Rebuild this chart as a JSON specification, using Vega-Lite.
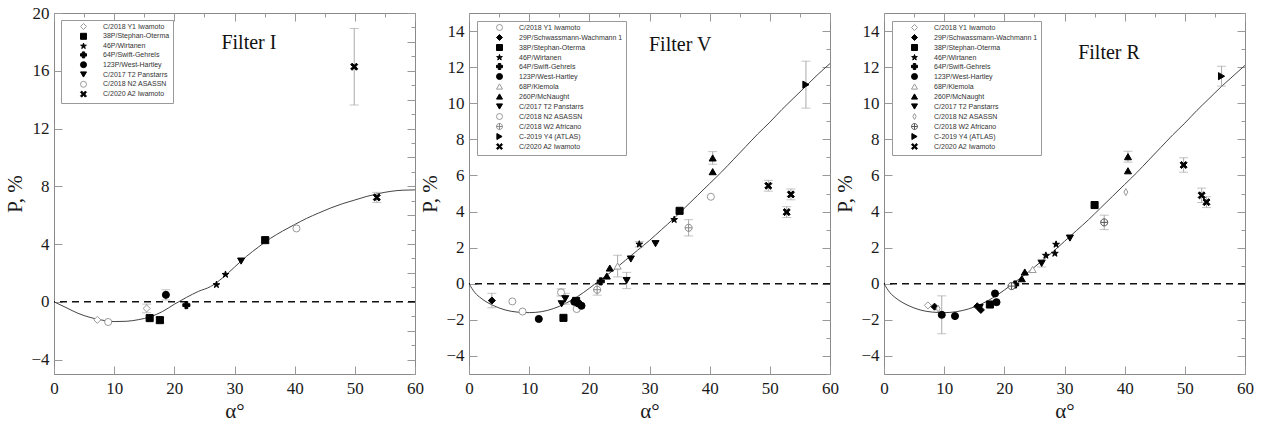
{
"$schema": "https://vega.github.io/schema/vega-lite/v6.json",
"padding": {"left": 4, "top": 3, "right": 2, "bottom": 0},
"background": "white",
"bounds": "flush",
"config": {
  "view": {"stroke": "#8a8a8a", "strokeWidth": 1},
  "axis": {"labelFont": "Liberation Serif", "labelFontSize": 17, "labelColor": "#1a1a1a", "titleFont": "Liberation Serif", "titleFontSize": 21, "titleFontWeight": "normal", "titleColor": "#1a1a1a", "grid": false, "domain": false, "tickColor": "#999", "tickWidth": 1},
  "legend": {"orient": "top-left", "offset": 8, "padding": 3, "strokeColor": "#999", "fillColor": "white", "labelFont": "Liberation Sans", "labelFontSize": 7, "labelColor": "#333", "rowPadding": -1, "symbolOffset": 16, "labelOffset": 16, "symbolSize": 36, "symbolStrokeWidth": 1, "titlePadding": 0}
},
"datasets": {
  "curveI": [
    {"a":0,"P":0},{"a":2,"P":-0.4},{"a":4,"P":-0.8},{"a":6,"P":-1.08},{"a":8,"P":-1.27},{"a":10,"P":-1.37},{"a":12,"P":-1.35},{"a":14,"P":-1.24},{"a":16,"P":-1.04},{"a":18,"P":-0.68},{"a":20,"P":-0.17},{"a":22,"P":0.3},{"a":24,"P":0.72},{"a":26,"P":1.05},{"a":28,"P":1.65},{"a":30,"P":2.4},{"a":32,"P":3.15},{"a":34,"P":3.8},{"a":36,"P":4.4},{"a":38,"P":4.9},{"a":40,"P":5.35},{"a":42,"P":5.78},{"a":44,"P":6.15},{"a":46,"P":6.5},{"a":48,"P":6.8},{"a":50,"P":7.05},{"a":52,"P":7.3},{"a":54,"P":7.5},{"a":56,"P":7.65},{"a":58,"P":7.73},{"a":60,"P":7.75}
  ],
  "curveV": [
    {"a":0,"P":0},{"a":1,"P":-0.5},{"a":2,"P":-0.8},{"a":4,"P":-1.2},{"a":6,"P":-1.45},{"a":8,"P":-1.57},{"a":10,"P":-1.6},{"a":12,"P":-1.55},{"a":14,"P":-1.38},{"a":16,"P":-1.1},{"a":18,"P":-0.72},{"a":20,"P":-0.25},{"a":22,"P":0.25},{"a":24,"P":0.75},{"a":26,"P":1.3},{"a":28,"P":1.85},{"a":30,"P":2.4},{"a":32,"P":3.0},{"a":34,"P":3.6},{"a":36,"P":4.25},{"a":38,"P":4.9},{"a":40,"P":5.55},{"a":42,"P":6.2},{"a":44,"P":6.9},{"a":46,"P":7.6},{"a":48,"P":8.3},{"a":50,"P":8.95},{"a":52,"P":9.65},{"a":54,"P":10.3},{"a":56,"P":10.95},{"a":58,"P":11.6},{"a":60,"P":12.2}
  ],
  "curveR": [
    {"a":0,"P":0},{"a":1,"P":-0.5},{"a":2,"P":-0.8},{"a":4,"P":-1.2},{"a":6,"P":-1.45},{"a":8,"P":-1.57},{"a":10,"P":-1.6},{"a":12,"P":-1.55},{"a":14,"P":-1.4},{"a":16,"P":-1.15},{"a":18,"P":-0.8},{"a":20,"P":-0.35},{"a":22,"P":0.15},{"a":24,"P":0.65},{"a":26,"P":1.2},{"a":28,"P":1.75},{"a":30,"P":2.35},{"a":32,"P":2.95},{"a":34,"P":3.55},{"a":36,"P":4.2},{"a":38,"P":4.85},{"a":40,"P":5.5},{"a":42,"P":6.15},{"a":44,"P":6.85},{"a":46,"P":7.55},{"a":48,"P":8.25},{"a":50,"P":8.9},{"a":52,"P":9.6},{"a":54,"P":10.25},{"a":56,"P":10.9},{"a":58,"P":11.5},{"a":60,"P":12.1}
  ],
  "ptsI": [
    {"a":7.2,"P":-1.25,"s":"C/2018 Y1 Iwamoto"},
    {"a":15.4,"P":-0.46,"s":"C/2018 Y1 Iwamoto","e":0.3},
    {"a":9.0,"P":-1.4,"s":"C/2018 N2 ASASSN"},
    {"a":40.3,"P":5.08,"s":"C/2018 N2 ASASSN"},
    {"a":15.9,"P":-1.13,"s":"38P/Stephan-Oterma"},
    {"a":17.6,"P":-1.27,"s":"38P/Stephan-Oterma","e":0.2},
    {"a":35.1,"P":4.27,"s":"38P/Stephan-Oterma","e":0.2},
    {"a":18.6,"P":0.48,"s":"123P/West-Hartley","e":0.35},
    {"a":22.0,"P":-0.23,"s":"64P/Swift-Gehrels"},
    {"a":27.0,"P":1.18,"s":"46P/Wirtanen"},
    {"a":28.5,"P":1.89,"s":"46P/Wirtanen"},
    {"a":31.1,"P":2.82,"s":"C/2017 T2 Panstarrs"},
    {"a":49.9,"P":16.28,"s":"C/2020 A2 Iwamoto","e":2.65},
    {"a":53.65,"P":7.23,"s":"C/2020 A2 Iwamoto","e":0.35}
  ],
  "ptsV": [
    {"a":7.2,"P":-0.98,"s":"C/2018 Y1 Iwamoto"},
    {"a":15.3,"P":-0.48,"s":"C/2018 Y1 Iwamoto","e":0.2},
    {"a":8.9,"P":-1.54,"s":"C/2018 N2 ASASSN"},
    {"a":17.9,"P":-1.4,"s":"C/2018 N2 ASASSN"},
    {"a":40.2,"P":4.82,"s":"C/2018 N2 ASASSN"},
    {"a":3.8,"P":-0.93,"s":"29P/Schwassmann-Wachmann 1","e":0.4},
    {"a":11.6,"P":-1.95,"s":"123P/West-Hartley"},
    {"a":17.5,"P":-1.0,"s":"123P/West-Hartley"},
    {"a":18.2,"P":-1.1,"s":"123P/West-Hartley"},
    {"a":18.7,"P":-1.22,"s":"123P/West-Hartley"},
    {"a":15.7,"P":-1.89,"s":"38P/Stephan-Oterma"},
    {"a":17.8,"P":-0.95,"s":"38P/Stephan-Oterma"},
    {"a":35.0,"P":4.04,"s":"38P/Stephan-Oterma"},
    {"a":15.4,"P":-1.11,"s":"C/2017 T2 Panstarrs"},
    {"a":16.0,"P":-0.83,"s":"C/2017 T2 Panstarrs","e":0.3},
    {"a":26.2,"P":0.18,"s":"C/2017 T2 Panstarrs","e":0.45},
    {"a":26.9,"P":1.37,"s":"C/2017 T2 Panstarrs"},
    {"a":31.0,"P":2.22,"s":"C/2017 T2 Panstarrs"},
    {"a":21.9,"P":0.13,"s":"64P/Swift-Gehrels"},
    {"a":21.3,"P":-0.33,"s":"C/2018 W2 Africano","e":0.3},
    {"a":36.5,"P":3.1,"s":"C/2018 W2 Africano","e":0.45},
    {"a":22.9,"P":0.43,"s":"260P/McNaught"},
    {"a":23.4,"P":0.87,"s":"260P/McNaught"},
    {"a":40.5,"P":6.97,"s":"260P/McNaught","e":0.35},
    {"a":40.5,"P":6.21,"s":"260P/McNaught"},
    {"a":24.7,"P":0.98,"s":"68P/Klemola","e":0.6},
    {"a":28.3,"P":2.19,"s":"46P/Wirtanen","e":0.15},
    {"a":34.1,"P":3.55,"s":"46P/Wirtanen"},
    {"a":56.0,"P":11.03,"s":"C-2019 Y4 (ATLAS)","e":1.3},
    {"a":49.75,"P":5.43,"s":"C/2020 A2 Iwamoto","e":0.3},
    {"a":52.8,"P":3.97,"s":"C/2020 A2 Iwamoto","e":0.3},
    {"a":53.5,"P":4.95,"s":"C/2020 A2 Iwamoto","e":0.3}
  ],
  "ptsR": [
    {"a":7.3,"P":-1.2,"s":"C/2018 Y1 Iwamoto"},
    {"a":8.4,"P":-1.27,"s":"29P/Schwassmann-Wachmann 1"},
    {"a":15.5,"P":-1.25,"s":"29P/Schwassmann-Wachmann 1"},
    {"a":16.1,"P":-1.45,"s":"29P/Schwassmann-Wachmann 1"},
    {"a":9.0,"P":-1.38,"s":"C/2018 N2 ASASSN"},
    {"a":40.2,"P":5.08,"s":"C/2018 N2 ASASSN"},
    {"a":9.6,"P":-1.72,"s":"123P/West-Hartley","e":1.05},
    {"a":11.8,"P":-1.79,"s":"123P/West-Hartley"},
    {"a":18.45,"P":-0.54,"s":"123P/West-Hartley"},
    {"a":18.7,"P":-1.02,"s":"123P/West-Hartley"},
    {"a":17.6,"P":-1.15,"s":"38P/Stephan-Oterma"},
    {"a":35.0,"P":4.36,"s":"38P/Stephan-Oterma"},
    {"a":15.9,"P":-1.32,"s":"C/2017 T2 Panstarrs"},
    {"a":26.2,"P":1.13,"s":"C/2017 T2 Panstarrs","e":0.2},
    {"a":30.9,"P":2.53,"s":"C/2017 T2 Panstarrs"},
    {"a":21.8,"P":-0.04,"s":"64P/Swift-Gehrels"},
    {"a":21.2,"P":-0.13,"s":"C/2018 W2 Africano"},
    {"a":36.6,"P":3.4,"s":"C/2018 W2 Africano","e":0.4},
    {"a":22.9,"P":0.28,"s":"260P/McNaught"},
    {"a":23.4,"P":0.65,"s":"260P/McNaught"},
    {"a":40.55,"P":7.04,"s":"260P/McNaught","e":0.3},
    {"a":40.55,"P":6.26,"s":"260P/McNaught"},
    {"a":24.7,"P":0.79,"s":"68P/Klemola"},
    {"a":26.9,"P":1.57,"s":"46P/Wirtanen"},
    {"a":28.4,"P":1.68,"s":"46P/Wirtanen"},
    {"a":28.6,"P":2.18,"s":"46P/Wirtanen"},
    {"a":56.1,"P":11.5,"s":"C-2019 Y4 (ATLAS)","e":0.55},
    {"a":49.8,"P":6.58,"s":"C/2020 A2 Iwamoto","e":0.4},
    {"a":52.8,"P":4.9,"s":"C/2020 A2 Iwamoto","e":0.4},
    {"a":53.6,"P":4.52,"s":"C/2020 A2 Iwamoto","e":0.3}
  ]
},
"spacing": 54,
"resolve": {"scale": {"x": "independent", "y": "independent", "shape": "independent", "fill": "independent", "stroke": "independent"}, "legend": {"shape": "independent", "fill": "independent", "stroke": "independent"}},
"hconcat": [
  {
    "width": 361, "height": 361,
    "resolve": {"axis": {"x": "independent", "y": "independent"}},
    "layer": [
      {
        "layer": [
          {
            "data": {"name": "curveI"},
            "mark": {"type": "line", "interpolate": "monotone", "color": "#444", "strokeWidth": 1},
            "encoding": {
              "x": {"field": "a", "type": "quantitative", "scale": {"domain": [0, 60], "nice": false}, "title": "α°", "axis": {"values": [0,5,10,15,20,25,30,35,40,45,50,55,60], "labelExpr": "datum.value % 10 === 0 ? datum.label : ''", "tickSize": {"condition": {"test": "datum.value % 10 === 0", "value": -8}, "value": -4}, "labelPadding": 14, "titlePadding": 4, "labelFlush": false}},
              "y": {"field": "P", "type": "quantitative", "scale": {"domain": [-5, 20], "nice": false}, "title": "P, %", "axis": {"values": [-4,-3,-2,-1,0,1,2,3,4,5,6,7,8,9,10,11,12,13,14,15,16,17,18,19,20], "labelExpr": "datum.value % 2 === 0 ? datum.label : ''", "tickSize": {"condition": {"test": "datum.value % 2 === 0", "value": -8}, "value": -4}, "labelPadding": 13, "titlePadding": 5, "labelOverlap": false}}
            }
          },
          {
            "data": {"values": [{}]},
            "mark": {"type": "rule", "strokeDash": [7, 5], "color": "#111", "strokeWidth": 1.4},
            "encoding": {"y": {"datum": 0, "type": "quantitative", "title": "P, %"}}
          },
          {
            "data": {"values": [{}]},
            "mark": {"type": "text", "font": "Liberation Serif", "fontSize": 20, "color": "#111"},
            "encoding": {"x": {"datum": 32.4, "type": "quantitative", "title": "α°"}, "y": {"datum": 17.9, "type": "quantitative", "title": "P, %"}, "text": {"value": "Filter I"}}
          },
          {
            "data": {"name": "ptsI"},
            "transform": [{"filter": "datum.e > 0"}],
            "mark": {"type": "errorbar", "ticks": {"size": 9}, "color": "#aaa", "thickness": 1},
            "encoding": {
              "x": {"field": "a", "type": "quantitative", "title": "α°"},
              "y": {"field": "P", "type": "quantitative", "title": "P, %"},
              "yError": {"field": "e"}
            }
          },
          {
            "data": {"name": "ptsI"},
            "mark": {"type": "point", "opacity": 1, "strokeWidth": 1, "size": 50},
            "encoding": {
              "x": {"field": "a", "type": "quantitative", "title": "α°"},
              "y": {"field": "P", "type": "quantitative", "title": "P, %"},
              "shape": {"field": "s", "type": "nominal", "title": null, "legend": {"symbolSize": 36, "rowPadding": -1.2, "symbolOffset": 16, "labelOffset": 16, "padding": 3, "offset": 7}, "scale": {"domain": ["C/2018 Y1 Iwamoto", "38P/Stephan-Oterma", "46P/Wirtanen", "64P/Swift-Gehrels", "123P/West-Hartley", "C/2017 T2 Panstarrs", "C/2018 N2 ASASSN", "C/2020 A2 Iwamoto"], "range": ["diamond", "square", "M0,-1L0.2245,-0.309L0.951,-0.309L0.363,0.118L0.588,0.809L0,0.382L-0.588,0.809L-0.363,0.118L-0.951,-0.309L-0.2245,-0.309Z", "cross", "circle", "triangle-down", "circle", "M-1,-0.6L-0.6,-1L0,-0.4L0.6,-1L1,-0.6L0.4,0L1,0.6L0.6,1L0,0.4L-0.6,1L-1,0.6L-0.4,0Z"]}},
              "fill": {"field": "s", "type": "nominal", "title": null, "scale": {"domain": ["C/2018 Y1 Iwamoto", "38P/Stephan-Oterma", "46P/Wirtanen", "64P/Swift-Gehrels", "123P/West-Hartley", "C/2017 T2 Panstarrs", "C/2018 N2 ASASSN", "C/2020 A2 Iwamoto"], "range": ["white", "black", "black", "black", "black", "black", "white", "black"]}},
              "stroke": {"field": "s", "type": "nominal", "title": null, "scale": {"domain": ["C/2018 Y1 Iwamoto", "38P/Stephan-Oterma", "46P/Wirtanen", "64P/Swift-Gehrels", "123P/West-Hartley", "C/2017 T2 Panstarrs", "C/2018 N2 ASASSN", "C/2020 A2 Iwamoto"], "range": ["#999", "black", "black", "black", "black", "black", "#999", "black"]}}
            }
          }
        ]
      },
      {
        "data": {"name": "curveI"},
        "mark": {"type": "line", "opacity": 0},
        "encoding": {
          "x": {"field": "a", "type": "quantitative", "scale": {"domain": [0, 60], "nice": false}, "axis": {"orient": "top", "values": [0,5,10,15,20,25,30,35,40,45,50,55,60], "labels": false, "title": null, "tickSize": {"condition": {"test": "datum.value % 10 === 0", "value": -8}, "value": -4}}},
          "y": {"field": "P", "type": "quantitative", "scale": {"domain": [-5, 20], "nice": false}, "axis": {"orient": "right", "values": [-5,-4,-3,-2,-1,0,1,2,3,4,5,6,7,8,9,10,11,12,13,14,15,16,17,18,19,20], "labels": false, "title": null, "tickSize": {"condition": {"test": "datum.value % 2 === 0", "value": -8}, "value": -4}}}
        }
      }
    ]
  },
  {
    "width": 361, "height": 361,
    "resolve": {"axis": {"x": "independent", "y": "independent"}},
    "layer": [
      {
        "layer": [
          {
            "data": {"name": "curveV"},
            "mark": {"type": "line", "interpolate": "monotone", "color": "#444", "strokeWidth": 1},
            "encoding": {
              "x": {"field": "a", "type": "quantitative", "scale": {"domain": [0, 60], "nice": false}, "title": "α°", "axis": {"values": [0,5,10,15,20,25,30,35,40,45,50,55,60], "labelExpr": "datum.value % 10 === 0 ? datum.label : ''", "tickSize": {"condition": {"test": "datum.value % 10 === 0", "value": -8}, "value": -4}, "labelPadding": 14, "titlePadding": 4, "labelFlush": false}},
              "y": {"field": "P", "type": "quantitative", "scale": {"domain": [-5, 15], "nice": false}, "title": "P, %", "axis": {"values": [-4,-3,-2,-1,0,1,2,3,4,5,6,7,8,9,10,11,12,13,14,15], "labelExpr": "datum.value % 2 === 0 ? datum.label : ''", "tickSize": {"condition": {"test": "datum.value % 2 === 0", "value": -8}, "value": -4}, "labelPadding": 13, "titlePadding": 5}}
            }
          },
          {
            "data": {"values": [{}]},
            "mark": {"type": "rule", "strokeDash": [7, 5], "color": "#111", "strokeWidth": 1.4},
            "encoding": {"y": {"datum": 0, "type": "quantitative", "title": "P, %"}}
          },
          {
            "data": {"values": [{}]},
            "mark": {"type": "text", "font": "Liberation Serif", "fontSize": 20, "color": "#111"},
            "encoding": {"x": {"datum": 35.1, "type": "quantitative", "title": "α°"}, "y": {"datum": 13.2, "type": "quantitative", "title": "P, %"}, "text": {"value": "Filter V"}}
          },
          {
            "data": {"name": "ptsV"},
            "transform": [{"filter": "datum.e > 0"}],
            "mark": {"type": "errorbar", "ticks": {"size": 9}, "color": "#aaa", "thickness": 1},
            "encoding": {
              "x": {"field": "a", "type": "quantitative", "title": "α°"},
              "y": {"field": "P", "type": "quantitative", "title": "P, %"},
              "yError": {"field": "e"}
            }
          },
          {
            "data": {"name": "ptsV"},
            "mark": {"type": "point", "opacity": 1, "strokeWidth": 1, "size": 50},
            "encoding": {
              "x": {"field": "a", "type": "quantitative", "title": "α°"},
              "y": {"field": "P", "type": "quantitative", "title": "P, %"},
              "shape": {"field": "s", "type": "nominal", "title": null, "legend": {"symbolSize": 36, "rowPadding": -1, "symbolOffset": 16, "labelOffset": 16, "padding": 3}, "scale": {"domain": ["C/2018 Y1 Iwamoto", "29P/Schwassmann-Wachmann 1", "38P/Stephan-Oterma", "46P/Wirtanen", "64P/Swift-Gehrels", "123P/West-Hartley", "68P/Klemola", "260P/McNaught", "C/2017 T2 Panstarrs", "C/2018 N2 ASASSN", "C/2018 W2 Africano", "C-2019 Y4 (ATLAS)", "C/2020 A2 Iwamoto"], "range": ["circle", "diamond", "square", "M0,-1L0.2245,-0.309L0.951,-0.309L0.363,0.118L0.588,0.809L0,0.382L-0.588,0.809L-0.363,0.118L-0.951,-0.309L-0.2245,-0.309Z", "cross", "circle", "triangle-up", "triangle-up", "triangle-down", "circle", "M-1,0A1,1 0 1,0 1,0A1,1 0 1,0 -1,0ZM-1,0L1,0M0,-1L0,1", "triangle-right", "M-1,-0.6L-0.6,-1L0,-0.4L0.6,-1L1,-0.6L0.4,0L1,0.6L0.6,1L0,0.4L-0.6,1L-1,0.6L-0.4,0Z"]}},
              "fill": {"field": "s", "type": "nominal", "title": null, "scale": {"domain": ["C/2018 Y1 Iwamoto", "29P/Schwassmann-Wachmann 1", "38P/Stephan-Oterma", "46P/Wirtanen", "64P/Swift-Gehrels", "123P/West-Hartley", "68P/Klemola", "260P/McNaught", "C/2017 T2 Panstarrs", "C/2018 N2 ASASSN", "C/2018 W2 Africano", "C-2019 Y4 (ATLAS)", "C/2020 A2 Iwamoto"], "range": ["white", "black", "black", "black", "black", "black", "white", "black", "black", "white", "white", "black", "black"]}},
              "stroke": {"field": "s", "type": "nominal", "title": null, "scale": {"domain": ["C/2018 Y1 Iwamoto", "29P/Schwassmann-Wachmann 1", "38P/Stephan-Oterma", "46P/Wirtanen", "64P/Swift-Gehrels", "123P/West-Hartley", "68P/Klemola", "260P/McNaught", "C/2017 T2 Panstarrs", "C/2018 N2 ASASSN", "C/2018 W2 Africano", "C-2019 Y4 (ATLAS)", "C/2020 A2 Iwamoto"], "range": ["#999", "black", "black", "black", "black", "black", "#999", "black", "black", "#999", "#888", "black", "black"]}}
            }
          }
        ]
      },
      {
        "data": {"name": "curveV"},
        "mark": {"type": "line", "opacity": 0},
        "encoding": {
          "x": {"field": "a", "type": "quantitative", "scale": {"domain": [0, 60], "nice": false}, "axis": {"orient": "top", "values": [0,5,10,15,20,25,30,35,40,45,50,55,60], "labels": false, "title": null, "tickSize": {"condition": {"test": "datum.value % 10 === 0", "value": -8}, "value": -4}}},
          "y": {"field": "P", "type": "quantitative", "scale": {"domain": [-5, 15], "nice": false}, "axis": {"orient": "right", "values": [-5,-4,-3,-2,-1,0,1,2,3,4,5,6,7,8,9,10,11,12,13,14,15], "labels": false, "title": null, "tickSize": {"condition": {"test": "datum.value % 2 === 0", "value": -8}, "value": -4}}}
        }
      }
    ]
  },
  {
    "width": 361, "height": 361,
    "resolve": {"axis": {"x": "independent", "y": "independent"}},
    "layer": [
      {
        "layer": [
          {
            "data": {"name": "curveR"},
            "mark": {"type": "line", "interpolate": "monotone", "color": "#444", "strokeWidth": 1},
            "encoding": {
              "x": {"field": "a", "type": "quantitative", "scale": {"domain": [0, 60], "nice": false}, "title": "α°", "axis": {"values": [0,5,10,15,20,25,30,35,40,45,50,55,60], "labelExpr": "datum.value % 10 === 0 ? datum.label : ''", "tickSize": {"condition": {"test": "datum.value % 10 === 0", "value": -8}, "value": -4}, "labelPadding": 14, "titlePadding": 4, "labelFlush": false}},
              "y": {"field": "P", "type": "quantitative", "scale": {"domain": [-5, 15], "nice": false}, "title": "P, %", "axis": {"values": [-4,-3,-2,-1,0,1,2,3,4,5,6,7,8,9,10,11,12,13,14,15], "labelExpr": "datum.value % 2 === 0 ? datum.label : ''", "tickSize": {"condition": {"test": "datum.value % 2 === 0", "value": -8}, "value": -4}, "labelPadding": 13, "titlePadding": 5}}
            }
          },
          {
            "data": {"values": [{}]},
            "mark": {"type": "rule", "strokeDash": [7, 5], "color": "#111", "strokeWidth": 1.4},
            "encoding": {"y": {"datum": 0, "type": "quantitative", "title": "P, %"}}
          },
          {
            "data": {"values": [{}]},
            "mark": {"type": "text", "font": "Liberation Serif", "fontSize": 20, "color": "#111"},
            "encoding": {"x": {"datum": 37.4, "type": "quantitative", "title": "α°"}, "y": {"datum": 12.8, "type": "quantitative", "title": "P, %"}, "text": {"value": "Filter R"}}
          },
          {
            "data": {"name": "ptsR"},
            "transform": [{"filter": "datum.e > 0"}],
            "mark": {"type": "errorbar", "ticks": {"size": 9}, "color": "#aaa", "thickness": 1},
            "encoding": {
              "x": {"field": "a", "type": "quantitative", "title": "α°"},
              "y": {"field": "P", "type": "quantitative", "title": "P, %"},
              "yError": {"field": "e"}
            }
          },
          {
            "data": {"name": "ptsR"},
            "mark": {"type": "point", "opacity": 1, "strokeWidth": 1, "size": 50},
            "encoding": {
              "x": {"field": "a", "type": "quantitative", "title": "α°"},
              "y": {"field": "P", "type": "quantitative", "title": "P, %"},
              "shape": {"field": "s", "type": "nominal", "title": null, "legend": {"symbolSize": 36, "rowPadding": -1, "symbolOffset": 16, "labelOffset": 16, "padding": 3}, "scale": {"domain": ["C/2018 Y1 Iwamoto", "29P/Schwassmann-Wachmann 1", "38P/Stephan-Oterma", "46P/Wirtanen", "64P/Swift-Gehrels", "123P/West-Hartley", "68P/Klemola", "260P/McNaught", "C/2017 T2 Panstarrs", "C/2018 N2 ASASSN", "C/2018 W2 Africano", "C-2019 Y4 (ATLAS)", "C/2020 A2 Iwamoto"], "range": ["diamond", "diamond", "square", "M0,-1L0.2245,-0.309L0.951,-0.309L0.363,0.118L0.588,0.809L0,0.382L-0.588,0.809L-0.363,0.118L-0.951,-0.309L-0.2245,-0.309Z", "cross", "circle", "triangle-up", "triangle-up", "triangle-down", "M0,-1L0.55,0L0,1L-0.55,0Z", "M-1,0A1,1 0 1,0 1,0A1,1 0 1,0 -1,0ZM-1,0L1,0M0,-1L0,1", "triangle-right", "M-1,-0.6L-0.6,-1L0,-0.4L0.6,-1L1,-0.6L0.4,0L1,0.6L0.6,1L0,0.4L-0.6,1L-1,0.6L-0.4,0Z"]}},
              "fill": {"field": "s", "type": "nominal", "title": null, "scale": {"domain": ["C/2018 Y1 Iwamoto", "29P/Schwassmann-Wachmann 1", "38P/Stephan-Oterma", "46P/Wirtanen", "64P/Swift-Gehrels", "123P/West-Hartley", "68P/Klemola", "260P/McNaught", "C/2017 T2 Panstarrs", "C/2018 N2 ASASSN", "C/2018 W2 Africano", "C-2019 Y4 (ATLAS)", "C/2020 A2 Iwamoto"], "range": ["white", "black", "black", "black", "black", "black", "white", "black", "black", "white", "white", "black", "black"]}},
              "stroke": {"field": "s", "type": "nominal", "title": null, "scale": {"domain": ["C/2018 Y1 Iwamoto", "29P/Schwassmann-Wachmann 1", "38P/Stephan-Oterma", "46P/Wirtanen", "64P/Swift-Gehrels", "123P/West-Hartley", "68P/Klemola", "260P/McNaught", "C/2017 T2 Panstarrs", "C/2018 N2 ASASSN", "C/2018 W2 Africano", "C-2019 Y4 (ATLAS)", "C/2020 A2 Iwamoto"], "range": ["#999", "black", "black", "black", "black", "black", "#999", "black", "black", "#999", "#555", "black", "black"]}}
            }
          }
        ]
      },
      {
        "data": {"name": "curveR"},
        "mark": {"type": "line", "opacity": 0},
        "encoding": {
          "x": {"field": "a", "type": "quantitative", "scale": {"domain": [0, 60], "nice": false}, "axis": {"orient": "top", "values": [0,5,10,15,20,25,30,35,40,45,50,55,60], "labels": false, "title": null, "tickSize": {"condition": {"test": "datum.value % 10 === 0", "value": -8}, "value": -4}}},
          "y": {"field": "P", "type": "quantitative", "scale": {"domain": [-5, 15], "nice": false}, "axis": {"orient": "right", "values": [-5,-4,-3,-2,-1,0,1,2,3,4,5,6,7,8,9,10,11,12,13,14,15], "labels": false, "title": null, "tickSize": {"condition": {"test": "datum.value % 2 === 0", "value": -8}, "value": -4}}}
        }
      }
    ]
  }
]
}
